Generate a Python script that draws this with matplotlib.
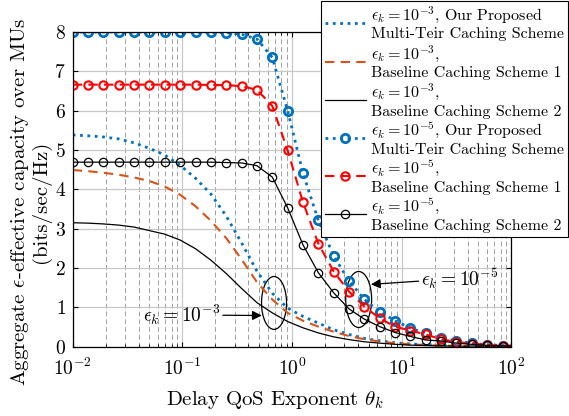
import numpy as np
import matplotlib
matplotlib.use("Agg")
import matplotlib.pyplot as plt
from matplotlib.patches import Ellipse

plt.rcParams.update({
    "font.family": "serif",
    "font.serif": ["cmr10"],
    "mathtext.fontset": "cm",
    "axes.formatter.use_mathtext": True,
})

# Delay QoS exponent sample points (log grid, last point at 100)
theta = np.r_[10 ** (-2 + 0.14 * np.arange(29)), 100.0]

# epsilon_k = 1e-3
prop_e3 = [5.38, 5.36, 5.33, 5.28, 5.18, 5.04, 4.87, 4.61, 4.28, 3.88,
           3.32, 2.64, 1.92, 1.36, 0.98, 0.77, 0.60, 0.43, 0.31, 0.21,
           0.15, 0.10, 0.07, 0.05, 0.035, 0.025, 0.018, 0.012, 0.008, 0.006]
base1_e3 = [4.49, 4.46, 4.42, 4.37, 4.30, 4.21, 4.07, 3.86, 3.57, 3.20,
            2.76, 2.22, 1.64, 1.20, 0.86, 0.66, 0.51, 0.38, 0.27, 0.19,
            0.13, 0.09, 0.06, 0.04, 0.03, 0.02, 0.015, 0.01, 0.007, 0.005]
base2_e3 = [3.15, 3.14, 3.12, 3.09, 3.04, 2.95, 2.86, 2.71, 2.49, 2.20,
            1.86, 1.48, 1.12, 0.86, 0.64, 0.48, 0.35, 0.25, 0.18, 0.125,
            0.09, 0.06, 0.04, 0.03, 0.02, 0.015, 0.01, 0.007, 0.005, 0.004]

# epsilon_k = 1e-5
prop_e5 = [8.00, 8.00, 8.00, 8.00, 8.00, 8.00, 8.00, 8.00, 8.00, 7.99,
           7.98, 7.94, 7.82, 7.35, 6.00, 4.41, 3.21, 2.31, 1.67, 1.20,
           0.89, 0.66, 0.47, 0.34, 0.23, 0.145, 0.09, 0.05, 0.03, 0.02]
base1_e5 = [6.66, 6.66, 6.66, 6.66, 6.66, 6.66, 6.66, 6.66, 6.66, 6.65,
            6.65, 6.62, 6.53, 6.12, 4.99, 3.67, 2.62, 1.91, 1.40, 1.02,
            0.72, 0.51, 0.41, 0.31, 0.19, 0.12, 0.08, 0.045, 0.025, 0.02]
base2_e5 = [4.69, 4.69, 4.69, 4.69, 4.69, 4.69, 4.69, 4.69, 4.69, 4.69,
            4.68, 4.67, 4.60, 4.31, 3.53, 2.59, 1.88, 1.37, 0.96, 0.70,
            0.51, 0.36, 0.26, 0.17, 0.145, 0.09, 0.06, 0.035, 0.02, 0.015]

labels = [
    "$\\epsilon_k=10^{-3}$, Our Proposed\nMulti-Teir Caching Scheme",
    "$\\epsilon_k=10^{-3}$,\nBaseline Caching Scheme 1",
    "$\\epsilon_k=10^{-3}$,\nBaseline Caching Scheme 2",
    "$\\epsilon_k=10^{-5}$, Our Proposed\nMulti-Teir Caching Scheme",
    "$\\epsilon_k=10^{-5}$,\nBaseline Caching Scheme 1",
    "$\\epsilon_k=10^{-5}$,\nBaseline Caching Scheme 2",
]

BLUE = "#0072BD"
ORANGE = "#D95319"
marks = list(range(29))

fig = plt.figure(figsize=(5.69, 4.16), dpi=100)
ax = fig.add_axes([0.1278, 0.1666, 0.7708, 0.7567])

ax.plot(theta, prop_e3, ":", color=BLUE, lw=2.0, label=labels[0])
ax.plot(theta, base1_e3, color=ORANGE, lw=1.5, dashes=[4.5, 3], label=labels[1])
ax.plot(theta, base2_e3, "-", color="k", lw=0.9, label=labels[2])
ax.plot(theta, prop_e5, ":", color=BLUE, lw=2.0, marker="o", ms=6,
        mfc="none", mew=2.0, markevery=marks, label=labels[3])
ax.plot(theta, base1_e5, color="r", lw=1.5, dashes=[4.5, 3], marker="o",
        ms=6, mfc="none", mew=1.5, markevery=marks, label=labels[4])
ax.plot(theta, base2_e5, "-", color="k", lw=0.9, marker="o", ms=6,
        mfc="none", mew=0.9, markevery=marks, label=labels[5])

ax.set_xscale("log")
ax.set_xlim(1e-2, 1e2)
ax.set_ylim(0, 8)
ax.set_yticks(range(0, 9))

ax.grid(True, which="major", color="#c8c8c8", lw=0.9, ls="-")
ax.grid(True, which="minor", axis="x", color="#a0a0a0", lw=0.7, ls=(0, (5, 3)))
ax.set_axisbelow(True)
ax.tick_params(which="both", direction="in", top=True, right=True, labelsize=14)
ax.tick_params(axis="x", which="major", pad=8)
ax.tick_params(axis="y", which="major", pad=5)
for s in ax.spines.values():
    s.set_linewidth(0.9)

ax.set_xlabel("Delay QoS Exponent $\\theta_k$", fontsize=15)
ax.xaxis.set_label_coords(0.461, -0.135)
ax.set_ylabel("Aggregate $\\epsilon$-effective capacity over MUs\n(bits/sec/Hz)",
              fontsize=15, linespacing=0.95)
ax.yaxis.set_label_coords(-0.05, 0.46)

# annotations with ellipses
ax.add_patch(Ellipse((0.459, 0.139), 0.057, 0.168, transform=ax.transAxes,
                     fill=False, ec="k", lw=0.9))
ax.add_patch(Ellipse((0.652, 0.150), 0.059, 0.178, transform=ax.transAxes,
                     fill=False, ec="k", lw=0.9))
ax.annotate("$\\epsilon_k=10^{-3}$", xy=(0.431, 0.099), xytext=(0.336, 0.101),
            xycoords="axes fraction", textcoords="axes fraction",
            ha="right", va="center", fontsize=14,
            arrowprops=dict(arrowstyle="-|>", color="k", lw=0.9,
                            mutation_scale=14, shrinkA=0, shrinkB=0))
ax.annotate("$\\epsilon_k=10^{-5}$", xy=(0.680, 0.198), xytext=(0.795, 0.217),
            xycoords="axes fraction", textcoords="axes fraction",
            ha="left", va="center", fontsize=14,
            arrowprops=dict(arrowstyle="-|>", color="k", lw=0.9,
                            mutation_scale=14, shrinkA=0, shrinkB=0))

leg = fig.legend(loc="upper right", bbox_to_anchor=(0.998, 0.998), fontsize=11.5,
                 frameon=True, fancybox=False, edgecolor="k", framealpha=1,
                 handlelength=2.6, borderpad=0.25, labelspacing=0.12,
                 handletextpad=0.3, borderaxespad=0)
leg.get_frame().set_linewidth(0.8)

fig.savefig("out.png", dpi=100)
